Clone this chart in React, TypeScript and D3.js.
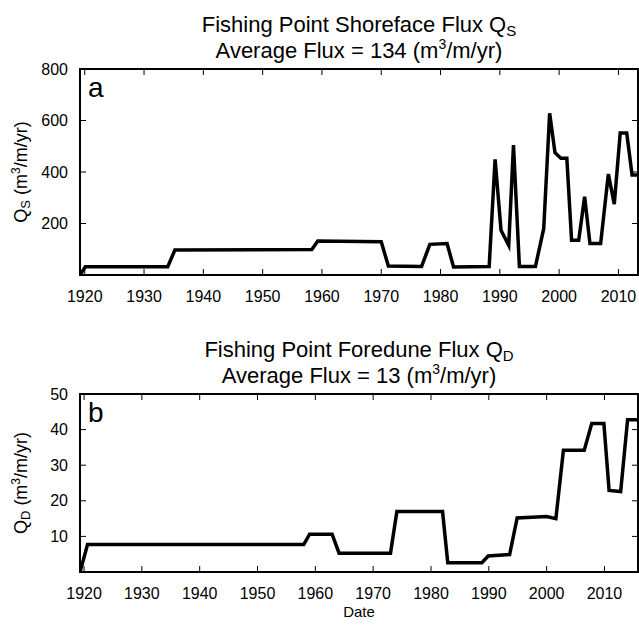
import React from "react";
import * as d3 from "d3";

const shoreYears = [1919.2, 1920.1, 1934, 1935.2, 1958.3, 1959.3, 1970, 1971.2, 1976.8, 1978.2, 1981.1, 1982.2, 1988.2, 1989.2, 1990.2, 1991.5, 1992.3, 1993.3, 1996, 1997.4, 1998.4, 1999.3, 2000.3, 2001.3, 2002.1, 2003.3, 2004.3, 2005.2, 2007, 2008.3, 2009.3, 2010.3, 2011.4, 2012.3, 2013.3];
const shoreFlux = [0, 32, 32, 97, 99, 132, 129, 35, 33, 119, 122, 31, 33, 449, 174, 115, 505, 33, 33, 180, 628, 475, 453, 453, 135, 135, 304, 122, 122, 392, 275, 551, 551, 388, 388];

const duneYears = [1919.3, 1920.6, 1958, 1959, 1962.9, 1964.1, 1973, 1974.1, 1982, 1982.9, 1988.8, 1989.9, 1993.6, 1994.9, 2000, 2001.6, 2002.9, 2006.5, 2007.8, 2009.9, 2010.8, 2012.8, 2014, 2015.8];
const duneFlux = [0, 7.7, 7.7, 10.6, 10.6, 5.3, 5.3, 17, 17, 2.6, 2.6, 4.5, 4.9, 15.2, 15.6, 15.0, 34.2, 34.2, 41.7, 41.7, 22.9, 22.6, 42.8, 42.8];

const xTicks = [1920, 1930, 1940, 1950, 1960, 1970, 1980, 1990, 2000, 2010];
const shoreYTicks = [200, 400, 600, 800];
const duneYTicks = [10, 20, 30, 40, 50];

const FONT = "'Liberation Sans', Arial, Helvetica, sans-serif";

type PanelProps = {
  years: number[];
  values: number[];
  yMax: number;
  yTicks: number[];
  top: number;
  bottom: number;
  letter: string;
  sub: string;
  avg: string;
  titleMain: string;
  id: string;
};

function Panel(p: PanelProps) {
  const left = 80;
  const right = 638;
  const ext = d3.extent(p.years) as [number, number];
  const x = d3.scaleLinear().domain(ext).range([left, right]);
  const y = d3.scaleLinear().domain([0, p.yMax]).range([p.bottom, p.top]);
  const pts = p.years.map((yr, i) => [yr, p.values[i]] as [number, number]);
  const line = d3
    .line<[number, number]>()
    .x((d) => x(d[0]))
    .y((d) => y(d[1]));
  const tl = 6;
  const midY = (p.top + p.bottom) / 2;
  const cx = (left + right) / 2;
  return (
    <g>
      <defs>
        <clipPath id={p.id}>
          <rect x={left} y={p.top} width={right - left} height={p.bottom - p.top} />
        </clipPath>
      </defs>
      <text x={cx} y={p.top - 37} textAnchor="middle" fontSize={22} fontFamily={FONT}>
        {p.titleMain}
        <tspan fontSize={15} dy={4}>{p.sub}</tspan>
      </text>
      <text x={cx} y={p.top - 11} textAnchor="middle" fontSize={22} fontFamily={FONT}>
        {`Average Flux = ${p.avg} (m`}
        <tspan fontSize={14} dy={-9}>3</tspan>
        <tspan dy={9}>/m/yr)</tspan>
      </text>
      {xTicks.map((t) => (
        <g key={"x" + t}>
          <line x1={x(t)} x2={x(t)} y1={p.bottom} y2={p.bottom - tl} stroke="#000" strokeWidth={1} />
          <line x1={x(t)} x2={x(t)} y1={p.top} y2={p.top + tl} stroke="#000" strokeWidth={1} />
          <text x={x(t)} y={p.bottom + 27} textAnchor="middle" fontSize={16} fontFamily={FONT}>
            {t}
          </text>
        </g>
      ))}
      {p.yTicks.map((t) => (
        <g key={"y" + t}>
          <line x1={left} x2={left + tl} y1={y(t)} y2={y(t)} stroke="#000" strokeWidth={1} />
          <line x1={right} x2={right - tl} y1={y(t)} y2={y(t)} stroke="#000" strokeWidth={1} />
          <text x={68} y={y(t)} dy="0.35em" textAnchor="end" fontSize={16} fontFamily={FONT}>
            {t}
          </text>
        </g>
      ))}
      <path
        d={line(pts) || ""}
        fill="none"
        stroke="#000"
        strokeWidth={3.5}
        strokeLinejoin="miter"
        strokeMiterlimit={4}
        clipPath={`url(#${p.id})`}
      />
      <rect x={left} y={p.top} width={right - left} height={p.bottom - p.top} fill="none" stroke="#000" strokeWidth={2} />
      <text x={88} y={p.top + 28} fontSize={28} fontFamily={FONT}>
        {p.letter}
      </text>
      <text
        transform={`translate(27,${midY}) rotate(-90)`}
        textAnchor="middle"
        fontSize={18}
        fontFamily={FONT}
      >
        Q<tspan fontSize={13} dy={3}>{p.sub}</tspan>
        <tspan dy={-3}>{" (m"}</tspan>
        <tspan fontSize={12} dy={-7}>3</tspan>
        <tspan dy={7}>/m/yr)</tspan>
      </text>
    </g>
  );
}

export default function App() {
  return (
    <svg
      width={639}
      height={625}
      style={{ position: "absolute", left: 0, top: 0, background: "#fff" }}
    >
      <rect x={0} y={0} width={639} height={625} fill="#fff" />
      <Panel
        id="clipA"
        years={shoreYears}
        values={shoreFlux}
        yMax={800}
        yTicks={shoreYTicks}
        top={69}
        bottom={275}
        letter="a"
        sub="S"
        avg="134"
        titleMain="Fishing Point Shoreface Flux Q"
      />
      <Panel
        id="clipB"
        years={duneYears}
        values={duneFlux}
        yMax={50}
        yTicks={duneYTicks}
        top={394}
        bottom={572}
        letter="b"
        sub="D"
        avg="13"
        titleMain="Fishing Point Foredune Flux Q"
      />
      <text x={359} y={617} textAnchor="middle" fontSize={15} fontFamily={FONT}>
        Date
      </text>
    </svg>
  );
}
